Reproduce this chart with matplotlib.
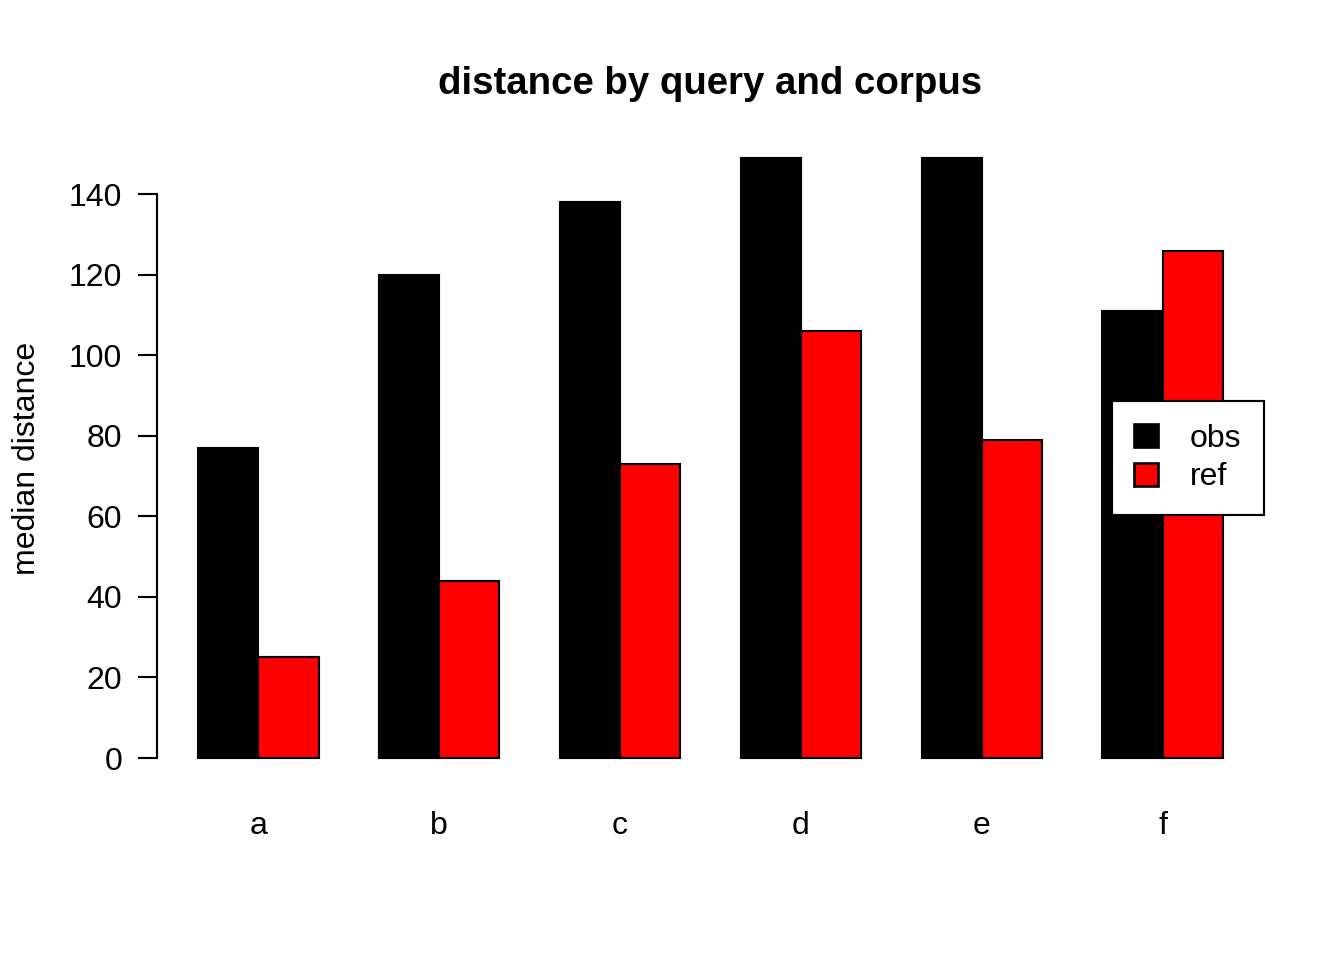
import numpy as np
import matplotlib
matplotlib.use("Agg")
import matplotlib.pyplot as plt
from matplotlib.patches import Patch

plt.rcParams['font.family'] = ['Liberation Sans', 'DejaVu Sans']

# data
queries = ['a', 'b', 'c', 'd', 'e', 'f']
obs = [77, 120, 138, 149, 149, 111]
ref = [25, 44, 73, 106, 79, 126]
yticks = [0, 20, 40, 60, 80, 100, 120, 140]

fig = plt.figure(figsize=(7, 5), dpi=192)
ax = fig.add_axes([157 / 1344, 178 / 960, (1264 - 157) / 1344, (782 - 134) / 960])

# R barplot(beside=TRUE) layout: bar width 1, one unit gap between groups
left = 1 + 3 * np.arange(len(queries))
ax.bar(left, obs, width=1, align='edge', color='black', edgecolor='black', linewidth=0.8)
ax.bar(left + 1, ref, width=1, align='edge', color='#FF0000', edgecolor='black', linewidth=0.8)

ax.set_xlim(1 - 17 * 0.04, 18 + 17 * 0.04)
top = max(max(obs), max(ref))
ax.set_ylim(-top * 0.04, top * 1.04)

for s in ['top', 'right', 'bottom']:
    ax.spines[s].set_visible(False)
ax.spines['left'].set_bounds(0, 140)
ax.spines['left'].set_linewidth(0.8)

ax.set_yticks(yticks)
ax.tick_params(axis='y', length=7, width=0.8, labelsize=12, pad=6)
ax.set_xticks(left + 1)
ax.set_xticklabels(queries)
ax.tick_params(axis='x', length=0, labelsize=12, pad=11)

ax.set_ylabel('median distance', fontsize=12, labelpad=10)
ax.set_title('distance by query and corpus', fontsize=14.4, fontweight='bold', pad=15)

handles = [Patch(facecolor='black', edgecolor='black', label='obs'),
           Patch(facecolor='#FF0000', edgecolor='black', label='ref')]
leg = ax.legend(handles=handles, loc='center right', borderaxespad=0, fontsize=12,
                fancybox=False, framealpha=1, edgecolor='black',
                handlelength=0.75, handleheight=0.75, handletextpad=1.0,
                borderpad=0.7, labelspacing=0.28)
leg.get_frame().set_linewidth(0.8)

fig.savefig('out.png', dpi=192)
